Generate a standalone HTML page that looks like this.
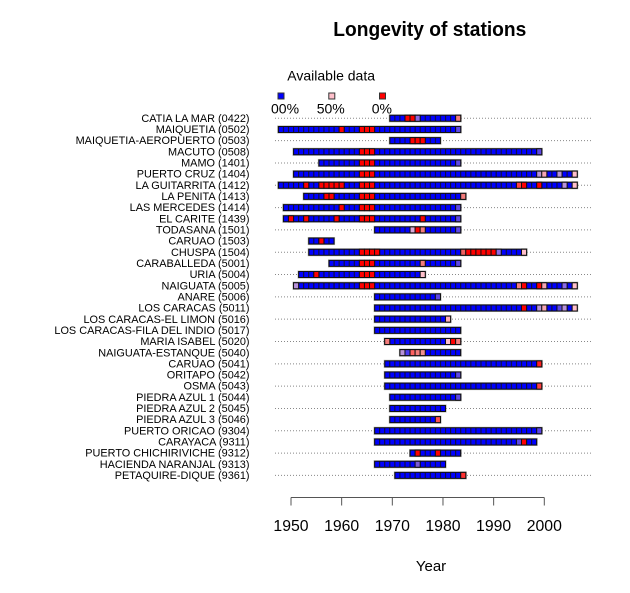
<!DOCTYPE html>
<html><head><meta charset="utf-8"><style>
html,body{margin:0;padding:0;background:#fff;}
svg{display:block;}
text{font-family:"Liberation Sans",Arial,sans-serif;fill:#000;}
.lab{font-size:10.9px;text-anchor:end;}
.h{fill:#b0b0b0;}
.b{fill:url(#pt);stroke:#111;stroke-width:1;vector-effect:non-scaling-stroke;}
.c{stroke:#111;stroke-width:1;vector-effect:non-scaling-stroke;}
.r{fill:#ff0000}.p{fill:#5e48e4}.q{fill:#8a6ae6}.v{fill:#b892d8}.s{fill:#f47c7c}.w{fill:#f4a6b4}.k{fill:#ffc0cb}.t{fill:#ff4040}
.d{stroke:#888;stroke-width:1;stroke-dasharray:1 2;}
</style></head><body>
<svg width="630" height="593" viewBox="0 0 630 593" xmlns="http://www.w3.org/2000/svg">
<defs>
<pattern id="pt" patternUnits="userSpaceOnUse" x="-0.11" y="0" width="1" height="10">
<rect width="1" height="10" fill="#0000ff"/><rect width="0.22" height="10" fill="#111133"/>
</pattern>
</defs>
<rect width="630" height="593" fill="#fff"/>
<text x="333.3" y="36" font-size="20" font-weight="bold" textLength="193" lengthAdjust="spacingAndGlyphs">Longevity of stations</text>
<text x="287.3" y="80.7" font-size="14">Available data</text>
<rect x="278" y="93" width="6" height="6" fill="#0000ff" stroke="#333"/>
<rect x="328.8" y="93" width="6" height="6" fill="#ffc0cb" stroke="#333"/>
<rect x="379.5" y="93" width="6" height="6" fill="#ff0000" stroke="#333"/>
<text x="271" y="113.3" font-size="14">00%</text>
<text x="316.7" y="113.3" font-size="14">50%</text>
<text x="371.7" y="113.3" font-size="14">0%</text>

<g class="d">
<line x1="275" x2="591" y1="118.3" y2="118.3"/>
<line x1="275" x2="591" y1="140.62" y2="140.62"/>
<line x1="275" x2="591" y1="162.94" y2="162.94"/>
<line x1="275" x2="591" y1="185.26" y2="185.26"/>
<line x1="275" x2="591" y1="207.58" y2="207.58"/>
<line x1="275" x2="591" y1="229.9" y2="229.9"/>
<line x1="275" x2="591" y1="252.22" y2="252.22"/>
<line x1="275" x2="591" y1="274.54" y2="274.54"/>
<line x1="275" x2="591" y1="296.86" y2="296.86"/>
<line x1="275" x2="591" y1="319.18" y2="319.18"/>
<line x1="275" x2="591" y1="341.5" y2="341.5"/>
<line x1="275" x2="591" y1="363.82" y2="363.82"/>
<line x1="275" x2="591" y1="386.14" y2="386.14"/>
<line x1="275" x2="591" y1="408.46" y2="408.46"/>
<line x1="275" x2="591" y1="430.78" y2="430.78"/>
<line x1="275" x2="591" y1="453.1" y2="453.1"/>
<line x1="275" x2="591" y1="475.42" y2="475.42"/>
</g>

<text class="lab" x="249.5" y="121.9">CATIA LA MAR (0422)</text>
<text class="lab" x="249.5" y="133.06">MAIQUETIA (0502)</text>
<text class="lab" x="249.5" y="144.22">MAIQUETIA-AEROPUERTO (0503)</text>
<text class="lab" x="249.5" y="155.38">MACUTO (0508)</text>
<text class="lab" x="249.5" y="166.54">MAMO (1401)</text>
<text class="lab" x="249.5" y="177.7">PUERTO CRUZ (1404)</text>
<text class="lab" x="249.5" y="188.86">LA GUITARRITA (1412)</text>
<text class="lab" x="249.5" y="200.02">LA PENITA (1413)</text>
<text class="lab" x="249.5" y="211.18">LAS MERCEDES (1414)</text>
<text class="lab" x="249.5" y="222.34">EL CARITE (1439)</text>
<text class="lab" x="249.5" y="233.5">TODASANA (1501)</text>
<text class="lab" x="249.5" y="244.66">CARUAO (1503)</text>
<text class="lab" x="249.5" y="255.82">CHUSPA (1504)</text>
<text class="lab" x="249.5" y="266.98">CARABALLEDA (5001)</text>
<text class="lab" x="249.5" y="278.14">URIA (5004)</text>
<text class="lab" x="249.5" y="289.3">NAIGUATA (5005)</text>
<text class="lab" x="249.5" y="300.46">ANARE (5006)</text>
<text class="lab" x="249.5" y="311.62">LOS CARACAS (5011)</text>
<text class="lab" x="249.5" y="322.78">LOS CARACAS-EL LIMON (5016)</text>
<text class="lab" x="249.5" y="333.94">LOS CARACAS-FILA DEL INDIO (5017)</text>
<text class="lab" x="249.5" y="345.1">MARIA ISABEL (5020)</text>
<text class="lab" x="249.5" y="356.26">NAIGUATA-ESTANQUE (5040)</text>
<text class="lab" x="249.5" y="367.42">CARUAO (5041)</text>
<text class="lab" x="249.5" y="378.58">ORITAPO (5042)</text>
<text class="lab" x="249.5" y="389.74">OSMA (5043)</text>
<text class="lab" x="249.5" y="400.9">PIEDRA AZUL 1 (5044)</text>
<text class="lab" x="249.5" y="412.06">PIEDRA AZUL 2 (5045)</text>
<text class="lab" x="249.5" y="423.22">PIEDRA AZUL 3 (5046)</text>
<text class="lab" x="249.5" y="434.38">PUERTO ORICAO (9304)</text>
<text class="lab" x="249.5" y="445.54">CARAYACA (9311)</text>
<text class="lab" x="249.5" y="456.7">PUERTO CHICHIRIVICHE (9312)</text>
<text class="lab" x="249.5" y="467.86">HACIENDA NARANJAL (9313)</text>
<text class="lab" x="249.5" y="479.02">PETAQUIRE-DIQUE (9361)</text>

<g transform="translate(288.467 118.3) scale(5.066 1)">
<rect class="h" x="19.8" y="-4" width="14.4" height="8"/><rect class="b" x="20" y="-3" width="14" height="6"/>
<rect class="c r" x="23" y="-3" width="1" height="6"/><rect class="c r" x="24" y="-3" width="1" height="6"/><rect class="c q" x="25" y="-3" width="1" height="6"/><rect class="c s" x="33" y="-3" width="1" height="6"/>
</g>
<g transform="translate(288.467 129.46) scale(5.066 1)">
<rect class="h" x="-2.2" y="-4" width="36.4" height="8"/><rect class="b" x="-2" y="-3" width="36" height="6"/>
<rect class="c r" x="10" y="-3" width="1" height="6"/><rect class="c r" x="14" y="-3" width="1" height="6"/><rect class="c r" x="15" y="-3" width="1" height="6"/><rect class="c r" x="16" y="-3" width="1" height="6"/><rect class="c p" x="33" y="-3" width="1" height="6"/>
</g>
<g transform="translate(288.467 140.62) scale(5.066 1)">
<rect class="h" x="19.8" y="-4" width="10.4" height="8"/><rect class="b" x="20" y="-3" width="10" height="6"/>
<rect class="c r" x="24" y="-3" width="1" height="6"/><rect class="c r" x="25" y="-3" width="1" height="6"/><rect class="c r" x="26" y="-3" width="1" height="6"/>
</g>
<g transform="translate(288.467 151.78) scale(5.066 1)">
<rect class="h" x="0.8" y="-4" width="49.4" height="8"/><rect class="b" x="1" y="-3" width="49" height="6"/>
<rect class="c r" x="14" y="-3" width="1" height="6"/><rect class="c r" x="15" y="-3" width="1" height="6"/><rect class="c r" x="16" y="-3" width="1" height="6"/><rect class="c p" x="49" y="-3" width="1" height="6"/>
</g>
<g transform="translate(288.467 162.94) scale(5.066 1)">
<rect class="h" x="5.8" y="-4" width="28.4" height="8"/><rect class="b" x="6" y="-3" width="28" height="6"/>
<rect class="c r" x="14" y="-3" width="1" height="6"/><rect class="c r" x="15" y="-3" width="1" height="6"/><rect class="c r" x="16" y="-3" width="1" height="6"/><rect class="c p" x="33" y="-3" width="1" height="6"/>
</g>
<g transform="translate(288.467 174.1) scale(5.066 1)">
<rect class="h" x="0.8" y="-4" width="56.4" height="8"/><rect class="b" x="1" y="-3" width="56" height="6"/>
<rect class="c r" x="14" y="-3" width="1" height="6"/><rect class="c r" x="15" y="-3" width="1" height="6"/><rect class="c r" x="16" y="-3" width="1" height="6"/><rect class="c v" x="49" y="-3" width="1" height="6"/><rect class="c w" x="50" y="-3" width="1" height="6"/><rect class="c v" x="53" y="-3" width="1" height="6"/><rect class="c k" x="56" y="-3" width="1" height="6"/>
</g>
<g transform="translate(288.467 185.26) scale(5.066 1)">
<rect class="h" x="-2.2" y="-4" width="59.4" height="8"/><rect class="b" x="-2" y="-3" width="59" height="6"/>
<rect class="c r" x="3" y="-3" width="1" height="6"/><rect class="c r" x="6" y="-3" width="1" height="6"/><rect class="c r" x="7" y="-3" width="1" height="6"/><rect class="c r" x="8" y="-3" width="1" height="6"/><rect class="c r" x="9" y="-3" width="1" height="6"/><rect class="c r" x="10" y="-3" width="1" height="6"/><rect class="c r" x="14" y="-3" width="1" height="6"/><rect class="c r" x="15" y="-3" width="1" height="6"/><rect class="c r" x="16" y="-3" width="1" height="6"/><rect class="c t" x="45" y="-3" width="1" height="6"/><rect class="c r" x="46" y="-3" width="1" height="6"/><rect class="c r" x="49" y="-3" width="1" height="6"/><rect class="c v" x="54" y="-3" width="1" height="6"/><rect class="c k" x="56" y="-3" width="1" height="6"/>
</g>
<g transform="translate(288.467 196.42) scale(5.066 1)">
<rect class="h" x="2.8" y="-4" width="32.4" height="8"/><rect class="b" x="3" y="-3" width="32" height="6"/>
<rect class="c r" x="7" y="-3" width="1" height="6"/><rect class="c r" x="8" y="-3" width="1" height="6"/><rect class="c r" x="14" y="-3" width="1" height="6"/><rect class="c r" x="15" y="-3" width="1" height="6"/><rect class="c r" x="16" y="-3" width="1" height="6"/><rect class="c s" x="34" y="-3" width="1" height="6"/>
</g>
<g transform="translate(288.467 207.58) scale(5.066 1)">
<rect class="h" x="-1.2" y="-4" width="35.4" height="8"/><rect class="b" x="-1" y="-3" width="35" height="6"/>
<rect class="c r" x="10" y="-3" width="1" height="6"/><rect class="c r" x="14" y="-3" width="1" height="6"/><rect class="c r" x="15" y="-3" width="1" height="6"/><rect class="c r" x="16" y="-3" width="1" height="6"/><rect class="c p" x="33" y="-3" width="1" height="6"/>
</g>
<g transform="translate(288.467 218.74) scale(5.066 1)">
<rect class="h" x="-1.2" y="-4" width="35.4" height="8"/><rect class="b" x="-1" y="-3" width="35" height="6"/>
<rect class="c r" x="0" y="-3" width="1" height="6"/><rect class="c r" x="3" y="-3" width="1" height="6"/><rect class="c r" x="9" y="-3" width="1" height="6"/><rect class="c r" x="14" y="-3" width="1" height="6"/><rect class="c r" x="15" y="-3" width="1" height="6"/><rect class="c r" x="16" y="-3" width="1" height="6"/><rect class="c r" x="26" y="-3" width="1" height="6"/><rect class="c p" x="33" y="-3" width="1" height="6"/>
</g>
<g transform="translate(288.467 229.9) scale(5.066 1)">
<rect class="h" x="16.8" y="-4" width="17.4" height="8"/><rect class="b" x="17" y="-3" width="17" height="6"/>
<rect class="c v" x="24" y="-3" width="1" height="6" style="fill:#d8a8d8"/><rect class="c r" x="25" y="-3" width="1" height="6"/><rect class="c s" x="26" y="-3" width="1" height="6"/><rect class="c p" x="33" y="-3" width="1" height="6"/>
</g>
<g transform="translate(288.467 241.06) scale(5.066 1)">
<rect class="h" x="3.8" y="-4" width="5.4" height="8"/><rect class="b" x="4" y="-3" width="5" height="6"/>
<rect class="c r" x="6" y="-3" width="1" height="6"/>
</g>
<g transform="translate(288.467 252.22) scale(5.066 1)">
<rect class="h" x="3.8" y="-4" width="43.4" height="8"/><rect class="b" x="4" y="-3" width="43" height="6"/>
<rect class="c r" x="14" y="-3" width="1" height="6"/><rect class="c r" x="15" y="-3" width="1" height="6"/><rect class="c r" x="16" y="-3" width="1" height="6"/><rect class="c r" x="17" y="-3" width="1" height="6"/><rect class="c s" x="34" y="-3" width="1" height="6" style="fill:#f06060"/><rect class="c r" x="35" y="-3" width="1" height="6"/><rect class="c r" x="36" y="-3" width="1" height="6"/><rect class="c r" x="37" y="-3" width="1" height="6"/><rect class="c r" x="38" y="-3" width="1" height="6"/><rect class="c r" x="39" y="-3" width="1" height="6"/><rect class="c r" x="40" y="-3" width="1" height="6"/><rect class="c q" x="41" y="-3" width="1" height="6"/><rect class="c k" x="46" y="-3" width="1" height="6"/>
</g>
<g transform="translate(288.467 263.38) scale(5.066 1)">
<rect class="h" x="7.8" y="-4" width="26.4" height="8"/><rect class="b" x="8" y="-3" width="26" height="6"/>
<rect class="c r" x="14" y="-3" width="1" height="6"/><rect class="c r" x="15" y="-3" width="1" height="6"/><rect class="c r" x="16" y="-3" width="1" height="6"/><rect class="c s" x="26" y="-3" width="1" height="6"/><rect class="c p" x="33" y="-3" width="1" height="6"/>
</g>
<g transform="translate(288.467 274.54) scale(5.066 1)">
<rect class="h" x="1.8" y="-4" width="25.4" height="8"/><rect class="b" x="2" y="-3" width="25" height="6"/>
<rect class="c r" x="5" y="-3" width="1" height="6"/><rect class="c r" x="14" y="-3" width="1" height="6"/><rect class="c r" x="15" y="-3" width="1" height="6"/><rect class="c r" x="16" y="-3" width="1" height="6"/><rect class="c k" x="26" y="-3" width="1" height="6"/>
</g>
<g transform="translate(288.467 285.7) scale(5.066 1)">
<rect class="h" x="0.8" y="-4" width="56.4" height="8"/><rect class="b" x="1" y="-3" width="56" height="6"/>
<rect class="c v" x="1" y="-3" width="1" height="6"/><rect class="c r" x="14" y="-3" width="1" height="6"/><rect class="c r" x="15" y="-3" width="1" height="6"/><rect class="c r" x="16" y="-3" width="1" height="6"/><rect class="c s" x="45" y="-3" width="1" height="6"/><rect class="c r" x="46" y="-3" width="1" height="6"/><rect class="c r" x="49" y="-3" width="1" height="6"/><rect class="c w" x="50" y="-3" width="1" height="6"/><rect class="c q" x="54" y="-3" width="1" height="6"/><rect class="c k" x="56" y="-3" width="1" height="6"/>
</g>
<g transform="translate(288.467 296.86) scale(5.066 1)">
<rect class="h" x="16.8" y="-4" width="13.4" height="8"/><rect class="b" x="17" y="-3" width="13" height="6"/>
<rect class="c p" x="29" y="-3" width="1" height="6"/>
</g>
<g transform="translate(288.467 308.02) scale(5.066 1)">
<rect class="h" x="16.8" y="-4" width="40.4" height="8"/><rect class="b" x="17" y="-3" width="40" height="6"/>
<rect class="c r" x="46" y="-3" width="1" height="6"/><rect class="c v" x="49" y="-3" width="1" height="6"/><rect class="c w" x="50" y="-3" width="1" height="6"/><rect class="c p" x="53" y="-3" width="1" height="6"/><rect class="c v" x="54" y="-3" width="1" height="6"/><rect class="c k" x="56" y="-3" width="1" height="6"/>
</g>
<g transform="translate(288.467 319.18) scale(5.066 1)">
<rect class="h" x="16.8" y="-4" width="15.4" height="8"/><rect class="b" x="17" y="-3" width="15" height="6"/>
<rect class="c k" x="31" y="-3" width="1" height="6" style="fill:#ffb0b8"/>
</g>
<g transform="translate(288.467 330.34) scale(5.066 1)">
<rect class="h" x="16.8" y="-4" width="17.4" height="8"/><rect class="b" x="17" y="-3" width="17" height="6"/>
</g>
<g transform="translate(288.467 341.5) scale(5.066 1)">
<rect class="h" x="18.8" y="-4" width="15.4" height="8"/><rect class="b" x="19" y="-3" width="15" height="6"/>
<rect class="c s" x="19" y="-3" width="1" height="6"/><rect class="c k" x="31" y="-3" width="1" height="6"/><rect class="c r" x="32" y="-3" width="1" height="6"/><rect class="c s" x="33" y="-3" width="1" height="6"/>
</g>
<g transform="translate(288.467 352.66) scale(5.066 1)">
<rect class="h" x="21.8" y="-4" width="12.4" height="8"/><rect class="b" x="22" y="-3" width="12" height="6"/>
<rect class="c v" x="22" y="-3" width="1" height="6"/><rect class="c p" x="23" y="-3" width="1" height="6" style="fill:#4a3af0"/><rect class="c t" x="24" y="-3" width="1" height="6" style="fill:#ff6060"/><rect class="c s" x="25" y="-3" width="1" height="6"/><rect class="c s" x="26" y="-3" width="1" height="6" style="fill:#f29090"/>
</g>
<g transform="translate(288.467 363.82) scale(5.066 1)">
<rect class="h" x="18.8" y="-4" width="31.4" height="8"/><rect class="b" x="19" y="-3" width="31" height="6"/>
<rect class="c t" x="49" y="-3" width="1" height="6" style="fill:#ff2020"/>
</g>
<g transform="translate(288.467 374.98) scale(5.066 1)">
<rect class="h" x="18.8" y="-4" width="15.4" height="8"/><rect class="b" x="19" y="-3" width="15" height="6"/>
<rect class="c p" x="33" y="-3" width="1" height="6"/>
</g>
<g transform="translate(288.467 386.14) scale(5.066 1)">
<rect class="h" x="18.8" y="-4" width="31.4" height="8"/><rect class="b" x="19" y="-3" width="31" height="6"/>
<rect class="c t" x="49" y="-3" width="1" height="6"/>
</g>
<g transform="translate(288.467 397.3) scale(5.066 1)">
<rect class="h" x="19.8" y="-4" width="14.4" height="8"/><rect class="b" x="20" y="-3" width="14" height="6"/>
<rect class="c p" x="33" y="-3" width="1" height="6"/>
</g>
<g transform="translate(288.467 408.46) scale(5.066 1)">
<rect class="h" x="19.8" y="-4" width="11.4" height="8"/><rect class="b" x="20" y="-3" width="11" height="6"/>
</g>
<g transform="translate(288.467 419.62) scale(5.066 1)">
<rect class="h" x="19.8" y="-4" width="10.4" height="8"/><rect class="b" x="20" y="-3" width="10" height="6"/>
<rect class="c t" x="29" y="-3" width="1" height="6" style="fill:#ff5050"/>
</g>
<g transform="translate(288.467 430.78) scale(5.066 1)">
<rect class="h" x="16.8" y="-4" width="33.4" height="8"/><rect class="b" x="17" y="-3" width="33" height="6"/>
<rect class="c p" x="49" y="-3" width="1" height="6"/>
</g>
<g transform="translate(288.467 441.94) scale(5.066 1)">
<rect class="h" x="16.8" y="-4" width="32.4" height="8"/><rect class="b" x="17" y="-3" width="32" height="6"/>
<rect class="c p" x="45" y="-3" width="1" height="6"/><rect class="c r" x="46" y="-3" width="1" height="6"/>
</g>
<g transform="translate(288.467 453.1) scale(5.066 1)">
<rect class="h" x="23.8" y="-4" width="10.4" height="8"/><rect class="b" x="24" y="-3" width="10" height="6"/>
<rect class="c r" x="25" y="-3" width="1" height="6"/><rect class="c r" x="29" y="-3" width="1" height="6"/>
</g>
<g transform="translate(288.467 464.26) scale(5.066 1)">
<rect class="h" x="16.8" y="-4" width="14.4" height="8"/><rect class="b" x="17" y="-3" width="14" height="6"/>
<rect class="c q" x="25" y="-3" width="1" height="6" style="fill:#7a5ad8"/>
</g>
<g transform="translate(288.467 475.42) scale(5.066 1)">
<rect class="h" x="20.8" y="-4" width="14.4" height="8"/><rect class="b" x="21" y="-3" width="14" height="6"/>
<rect class="c t" x="34" y="-3" width="1" height="6" style="fill:#ff3030"/>
</g>

<g stroke="#555" stroke-width="1" fill="none">
<line x1="291" x2="544.3" y1="497.5" y2="497.5"/>
<line x1="291" x2="291" y1="497.5" y2="505.5"/>
<line x1="341.66" x2="341.66" y1="497.5" y2="505.5"/>
<line x1="392.32" x2="392.32" y1="497.5" y2="505.5"/>
<line x1="442.98" x2="442.98" y1="497.5" y2="505.5"/>
<line x1="493.64" x2="493.64" y1="497.5" y2="505.5"/>
<line x1="544.3" x2="544.3" y1="497.5" y2="505.5"/>
</g>
<g font-size="15.8" text-anchor="middle">
<text x="291" y="531">1950</text>
<text x="341.66" y="531">1960</text>
<text x="392.32" y="531">1970</text>
<text x="442.98" y="531">1980</text>
<text x="493.64" y="531">1990</text>
<text x="544.3" y="531">2000</text>
</g>
<text x="431" y="571" font-size="15" text-anchor="middle">Year</text>
</svg>
</body></html>
